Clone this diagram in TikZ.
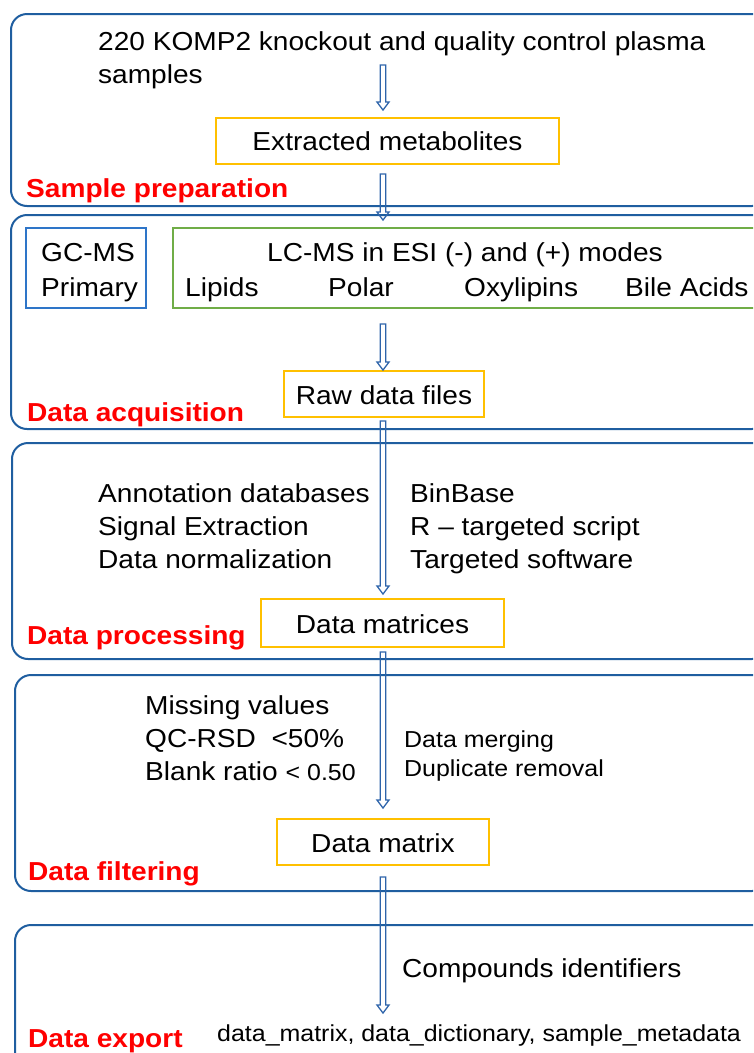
\documentclass[tikz,border=0pt]{standalone}
\usepackage{fontspec}
\setmainfont{Liberation Sans}[FakeStretch=1.08]
\usetikzlibrary{calc}
\definecolor{outerblue}{RGB}{31,94,160}
\definecolor{arrowblue}{RGB}{46,100,170}
\definecolor{gcblue}{RGB}{46,117,200}
\definecolor{lcgreen}{RGB}{112,173,71}
\definecolor{boxyellow}{RGB}{255,192,0}
\definecolor{labelred}{RGB}{255,0,0}
\tikzset{
  outer/.style={draw=outerblue,line width=2pt,rounded corners=16pt},
  ybox/.style={draw=boxyellow,line width=2pt,minimum height=46pt,inner sep=0pt,
    text height=21pt,text depth=1pt,font=\fontsize{26}{31}\selectfont},
  instrbox/.style={line width=1.8pt},
  txt/.style={anchor=base west,inner sep=0pt,font=\fontsize{26}{31}\selectfont},
  smalltxt/.style={anchor=base west,inner sep=0pt,font=\fontsize{23.1}{27}\selectfont},
  stage/.style={anchor=base west,inner sep=0pt,text=labelred,font=\fontsize{26}{31}\selectfont\bfseries},
  harrowstyle/.style={draw=arrowblue,line width=1.3pt,line join=miter}
}
\newcommand\harrow[2]{%
  \path[harrowstyle] let \p1=(#1), \p2=(#2) in
    (\x1-2.8pt,\y1) -- (\x1+2.8pt,\y1) -- (\x1+2.8pt,\y2+8pt) -- (\x1+6pt,\y2+8pt)
    -- (\x1,\y2) -- (\x1-6pt,\y2+8pt) -- (\x1-2.8pt,\y2+8pt) -- cycle;}
\begin{document}
\begin{tikzpicture}[x=1pt,y=-1pt]
\useasboundingbox (0,0) rectangle (753,1053);
\clip (0,0) rectangle (753,1053);
% outer stage boxes
\draw[outer] (11,14) rectangle (768,206);
\draw[outer] (11,215) rectangle (768,429);
\draw[outer] (12,443) rectangle (768,659);
\draw[outer] (15,675) rectangle (768,891);
\draw[outer] (15,925) rectangle (768,1080);

% stage 1
\node[txt] (samples) at (98,50) {220 KOMP2 knockout and quality control plasma};
\node[txt] (samples2) at (98,83) {samples};
\node[ybox,minimum width=343pt] (ext) at (387.5,140.5) {Extracted metabolites};
\node[stage] (lab1) at (26,197) {Sample preparation};

% stage 2
\draw[draw=gcblue,instrbox] (26,228) rectangle (146,308);
\node[txt] (gc1) at (41,261) {GC-MS};
\node[txt] (gc2) at (41,296) {Primary};
\draw[draw=lcgreen,instrbox] (173,228) rectangle (770,308);
\node[anchor=base,inner sep=0pt,font=\fontsize{26}{31}\selectfont] (lc) at (465,261) {LC-MS in ESI (-) and (+) modes};
\node[txt] (lip) at (185,296) {Lipids};
\node[txt] (pol) at (328,296) {Polar};
\node[txt] (oxy) at (464,296) {Oxylipins};
\node[txt] (bile) at (625,296) {Bile Acids};
\node[ybox,minimum width=200pt] (raw) at (384,394) {Raw data files};
\node[stage] (lab2) at (27,421) {Data acquisition};

% stage 3
\node[txt] (ann) at (98,502) {Annotation databases};
\node[txt] (sig) at (98,535) {Signal Extraction};
\node[txt] (norm) at (98,568) {Data normalization};
\node[txt] (bin) at (410,502) {BinBase};
\node[txt] (rscr) at (410,535) {R -- targeted script};
\node[txt] (tsw) at (410,568) {Targeted software};
\node[ybox,minimum width=243pt,minimum height=48pt] (dms) at (382.5,623) {Data matrices};
\node[stage] (lab3) at (27,644) {Data processing};

% stage 4
\node[txt] (miss) at (145,714) {Missing values};
\node[txt] (qc) at (145,747) {QC-RSD\ \ <50\%};
\node[txt] (blank) at (145,780) {Blank ratio {\fontsize{23.1}{27}\selectfont< 0.50}};
\node[smalltxt] (merge) at (404,747) {Data merging};
\node[smalltxt] (dup) at (404,776) {Duplicate removal};
\node[ybox,minimum width=212pt] (dmx) at (383,842) {Data matrix};
\node[stage] (lab4) at (28,880) {Data filtering};

% stage 5
\node[txt] (cmp) at (402,977) {Compounds identifiers};
\node[smalltxt] (files) at (217,1041) {data\_matrix, data\_dictionary, sample\_metadata};
\node[stage] (lab5) at (28,1047) {Data export};

% arrow end points
\coordinate (a1s) at (383,65);
\coordinate (a1e) at (383,110);
\coordinate (a2s) at (383,174);
\coordinate (a2e) at (383,220);
\coordinate (a3s) at (383,324);
\coordinate (a4s) at (383,421);
\coordinate (a4e) at (383,594);
\coordinate (a5s) at (383,652);
\coordinate (a5e) at (383,808);
\coordinate (a6s) at (383,877);
\coordinate (a6e) at (383,1013);

\harrow{a1s}{a1e}
\harrow{a2s}{a2e}
\harrow{a3s}{raw.north}
\harrow{a4s}{a4e}
\harrow{a5s}{a5e}
\harrow{a6s}{a6e}
\end{tikzpicture}
\end{document}
